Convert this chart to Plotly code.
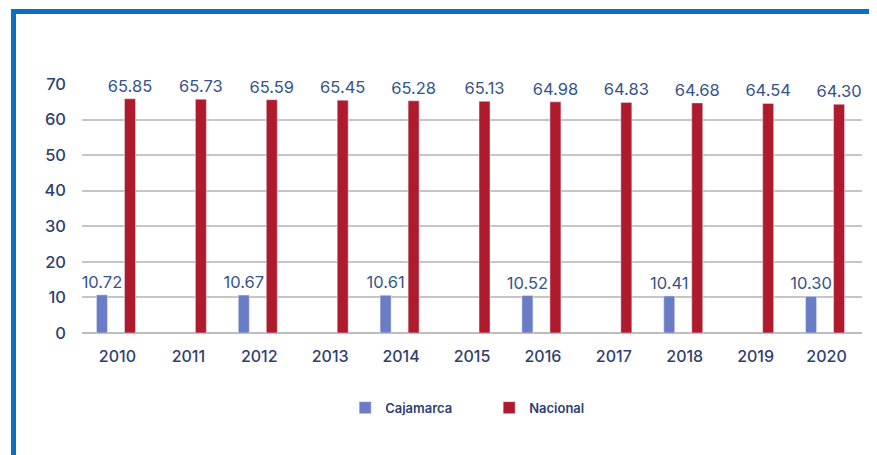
import plotly.graph_objects as go

years = ["2010", "2011", "2012", "2013", "2014", "2015", "2016", "2017", "2018", "2019", "2020"]
cajamarca = [10.72, None, 10.67, None, 10.61, None, 10.52, None, 10.41, None, 10.30]
nacional = [65.85, 65.73, 65.59, 65.45, 65.28, 65.13, 64.98, 64.83, 64.68, 64.54, 64.30]

BLUE = "#6b7cc6"
RED = "#b01a2d"
TEXT = "#2f4170"
LABEL = "#35548a"
FONT = "Inter"


def fmt(values):
    return ["" if v is None else f"{v:.2f}" for v in values]


fig = go.Figure()
for name, vals, color, off in [
    ("Cajamarca", cajamarca, BLUE, -0.296),
    ("Nacional", nacional, RED, 0.099),
]:
    fig.add_trace(
        go.Bar(
            x=years,
            y=vals,
            name=name,
            marker_color=color,
            width=0.155,
            offset=off,
            text=fmt(vals),
            textposition="outside",
            constraintext="none",
            textfont=dict(color=LABEL, size=16.5, family=FONT),
            cliponaxis=False,
        )
    )

# blue frame around the figure (only top and left edges fall inside the image)
fig.add_shape(
    type="rect",
    xref="paper",
    yref="paper",
    x0=-0.0878,
    x1=1.05,
    y0=-0.6,
    y1=1.291,
    line=dict(color="#0b6fc0", width=5),
    layer="above",
)

fig.update_layout(
    width=877,
    height=455,
    margin=dict(l=74, r=23, t=76, b=130),
    paper_bgcolor="white",
    plot_bgcolor="white",
    barmode="group",
    font=dict(family=FONT, color=TEXT, size=14),
    legend=dict(
        orientation="h",
        x=0.522,
        xanchor="center",
        y=-0.30,
        yanchor="middle",
        font=dict(size=13, color=TEXT, family=FONT, weight=600),
        entrywidth=99,
    ),
    xaxis=dict(
        showgrid=False,
        showline=False,
        ticks="",
        ticklabelstandoff=12,
        tickfont=dict(size=16, color=TEXT, weight=500),
    ),
    yaxis=dict(
        range=[0, 70],
        dtick=10,
        showgrid=True,
        gridcolor="#c6c6c6",
        gridwidth=1.5,
        zeroline=True,
        zerolinecolor="#bdbdbd",
        zerolinewidth=1.5,
        ticks="",
        ticklabelstandoff=15,
        tickfont=dict(size=16.5, color=TEXT, weight=500),
    ),
)

fig.write_html("out.html")
